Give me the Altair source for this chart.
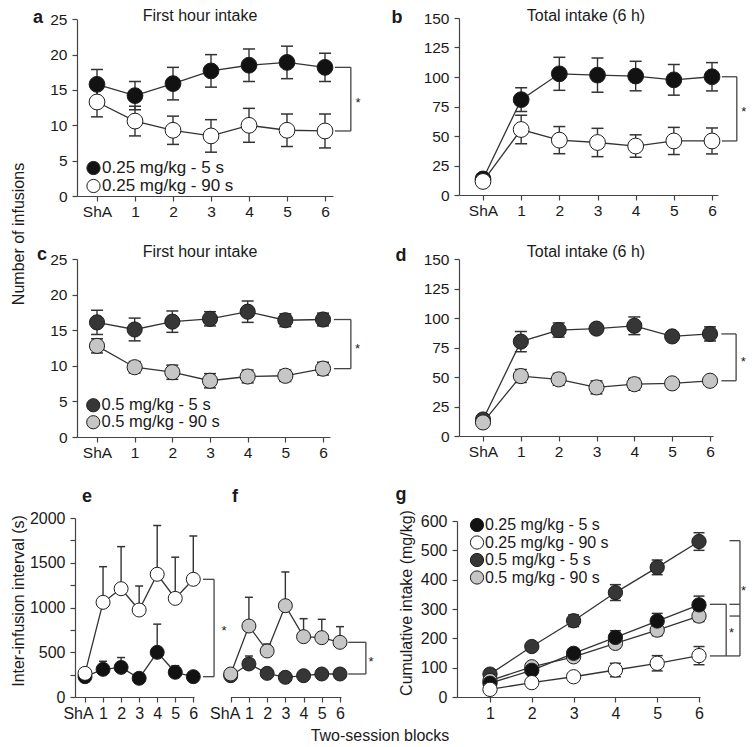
import altair as alt
import pandas as pd

FONT = "Liberation Sans"
W, H = 738, 735
M = 8  # page margin: plot px = page px - 8
LINE = "#333333"
STROKE = "#1e1e1e"
TEXT = "#1a1a1a"

BLOCKS = [0, 1, 2, 3, 4, 5, 6]
G_BLOCKS = [1, 2, 3, 4, 5, 6]

S1 = "0.25 mg/kg - 5 s"
S2 = "0.25 mg/kg - 90 s"
S3 = "0.5 mg/kg - 5 s"
S4 = "0.5 mg/kg - 90 s"
FILLS = {S1: "#121212", S2: "#ffffff", S3: "#363636", S4: "#c6c6c6"}

# (a) First hour intake, 0.25 mg/kg
A_5 = [15.8, 14.2, 15.9, 17.7, 18.5, 18.9, 18.2]
A_5_SEM = [2.1, 2.0, 2.3, 2.3, 2.3, 2.3, 2.0]
A_90 = [13.3, 10.6, 9.3, 8.5, 10.0, 9.3, 9.2]
A_90_SEM = [2.1, 2.1, 2.0, 2.3, 2.4, 2.3, 2.4]

# (b) Total intake (6 h), 0.25 mg/kg
B_5 = [13.6, 80.8, 102.7, 101.6, 100.8, 97.6, 100.2]
B_5_SEM = [2.0, 10.0, 14.0, 14.5, 12.5, 13.0, 12.0]
B_90 = [11.5, 55.5, 46.5, 44.5, 41.5, 45.8, 45.8]
B_90_SEM = [1.5, 12.0, 11.5, 12.0, 9.5, 11.5, 11.0]

# (c) First hour intake, 0.5 mg/kg
C_5 = [16.1, 15.1, 16.2, 16.6, 17.6, 16.4, 16.5]
C_5_SEM = [1.7, 1.6, 1.5, 1.0, 1.5, 0.9, 0.9]
C_90 = [12.8, 9.8, 9.1, 7.9, 8.5, 8.6, 9.6]
C_90_SEM = [1.0, 0.8, 1.0, 1.0, 0.9, 0.8, 0.9]

# (d) Total intake (6 h), 0.5 mg/kg
D_5 = [14.0, 80.0, 89.8, 91.0, 93.4, 84.4, 86.5]
D_5_SEM = [2.0, 8.5, 6.0, 2.5, 7.5, 2.0, 6.0]
D_90 = [11.5, 50.8, 48.0, 41.2, 43.9, 44.6, 46.8]
D_90_SEM = [1.5, 5.5, 5.0, 5.5, 5.0, 1.5, 1.5]

# (e) Inter-infusion interval, 0.25 mg/kg (upper SEM only)
E_5 = [227, 309, 331, 209, 499, 276, 227]
E_5_SEM = [0, 90, 110, 0, 315, 74, 0]
E_90 = [264, 1058, 1210, 972, 1371, 1102, 1315]
E_90_SEM = [0, 398, 470, 268, 545, 460, 484]

# (f) Inter-infusion interval, 0.5 mg/kg (upper SEM only)
F_5 = [238, 369, 264, 220, 238, 257, 257]
F_5_SEM = [0, 89, 0, 0, 0, 0, 0]
F_90 = [257, 793, 514, 1020, 674, 663, 611]
F_90_SEM = [0, 321, 78, 377, 201, 205, 175]

# (g) Cumulative intake
G_S1 = [47, 91, 149, 203, 259, 314]
G_S1_SEM = [8, 12, 13, 23, 26, 30]
G_S2 = [26, 49, 69, 92, 115, 141]
G_S2_SEM = [5, 8, 8, 23, 26, 31]
G_S3 = [78, 172, 260, 356, 442, 530]
G_S3_SEM = [8, 8, 20, 27, 25, 30]
G_S4 = [56, 103, 137, 183, 228, 276]
G_S4_SEM = [5, 8, 10, 17, 19, 19]

X_TICKS = BLOCKS
Y_TICKS_25 = [0, 5, 10, 15, 20, 25]
Y_TICKS_150 = [0, 25, 50, 75, 100, 125, 150]
Y_TICKS_2000 = [0, 250, 500, 750, 1000, 1250, 1500, 1750, 2000]
Y_TICKS_600 = [0, 100, 200, 300, 400, 500, 600]


def frame(x, groups, upper_only=False):
    rows = []
    for s, vals, sems in groups:
        for b, v, e in zip(x, vals, sems):
            rows.append({"block": b, "value": v, "err": e,
                         "lo": v if upper_only else v - e, "hi": v + e, "series": s})
    return pd.DataFrame(rows)


def xscale(px_left, px_right, px_a, px_b, va, vb):
    k = (px_b - px_a) / (vb - va)
    return alt.Scale(domain=[va + (px_left - px_a) / k, vb + (px_right - px_b) / k],
                     range=[px_left - M, px_right - M], nice=False, zero=False)


def yscale(px_bottom, px_top, vmax):
    return alt.Scale(domain=[0, vmax], range=[px_bottom - M, px_top - M], nice=False, zero=False)


def x_axis(y_px, values, sha_shift=0, fs=15.5):
    kw = {}
    if sha_shift:
        kw["labelOffset"] = {"condition": {"test": "datum.value == 0", "value": sha_shift},
                             "value": 0}
    return alt.Axis(orient="bottom", offset=(y_px - M) - H, values=values, format="d",
                    labelExpr="datum.value == 0 ? 'ShA' : datum.label", title=None, grid=False,
                    labelFlush=False, labelOverlap=False, labelPadding=3, labelFontSize=fs, **kw)


def y_axis(x_px, values, every=None, fs=15.5):
    kw = {}
    if every:
        kw["labelExpr"] = f"datum.value % {every} == 0 ? datum.label : ''"
    return alt.Axis(orient="left", offset=-(x_px - M), values=values, format="d", title=None,
                    grid=False, labelFlush=False, labelOverlap=False, labelPadding=5,
                    labelFontSize=fs, **kw)


def bracket_frame(segs):
    return pd.DataFrame([{"x": a, "x2": b, "y": c, "y2": d} for a, b, c, d in segs])


def simple_bracket(xs, xv, ytop, ybot):
    return [(xs, xv, ytop, ytop), (xv, xv, ytop, ybot), (xs, xv, ybot, ybot)]


def panel(df, xs, ys, xaxis, yaxis, domain, size, cap, legend=None, upper_only=False,
          segs=None, stars=None):
    # every layer of a panel carries the same axis definition so the shared axis merges cleanly
    def X(f):
        return alt.X(f"{f}:Q", scale=xs, axis=xaxis)

    def Y(f):
        return alt.Y(f"{f}:Q", scale=ys, axis=yaxis)

    layers = []
    layers.append(alt.Chart(df).mark_line(color=LINE, strokeWidth=1.3).encode(
        x=X("block"), y=Y("value"), detail="series:N", order="block:Q"))
    err = df[df["err"] > 0]
    layers.append(alt.Chart(err).mark_rule(color=LINE, strokeWidth=1.4).encode(
        x=X("block"), y=Y("lo"), y2=alt.Y2("hi")))
    layers.append(alt.Chart(err).mark_tick(orient="horizontal", size=cap, thickness=1.5,
                                           color=LINE, opacity=1).encode(x=X("block"), y=Y("hi")))
    if not upper_only:
        layers.append(alt.Chart(err).mark_tick(orient="horizontal", size=cap, thickness=1.5,
                                               color=LINE, opacity=1).encode(x=X("block"), y=Y("lo")))
    layers.append(alt.Chart(df).mark_point(shape="circle", filled=True, size=size, stroke=STROKE,
                                           strokeWidth=1, opacity=1).encode(
        x=X("block"), y=Y("value"),
        fill=alt.Fill("series:N", scale=alt.Scale(domain=domain, range=[FILLS[s] for s in domain]),
                      legend=legend)))
    if segs:
        layers.append(alt.Chart(bracket_frame(segs)).mark_rule(color="#444444", strokeWidth=1.3).encode(
            x=X("x"), x2=alt.X2("x2"), y=Y("y"), y2=alt.Y2("y2")))
    if stars:
        layers.append(alt.Chart(pd.DataFrame([{"x": a, "y": b} for a, b in stars])).mark_text(
            text="*", fontSize=13, color=TEXT, font=FONT, dy=4).encode(x=X("x"), y=Y("y")))
    return alt.layer(*layers)


def leg(x_px, y_px, fs, rowpad):
    return alt.Legend(orient="none", legendX=x_px - M, legendY=y_px - M, title=None,
                      labelFontSize=fs, labelFont=FONT, labelColor=TEXT, symbolType="circle",
                      symbolSize=175, symbolStrokeColor=STROKE, symbolStrokeWidth=1,
                      symbolOpacity=1, labelOffset=0, rowPadding=rowpad, padding=0,
                      labelLimit=300, direction="vertical")


# ---- panels ----
pa = panel(frame(BLOCKS, [(S1, A_5, A_5_SEM), (S2, A_90, A_90_SEM)]),
           xscale(77, 333, 97, 325, 0, 6), yscale(196, 19.3, 25),
           x_axis(196, X_TICKS), y_axis(77, Y_TICKS_25), [S1, S2], 250, 12,
           legend=leg(85, 159.5, 17, -2.3),
           segs=simple_bracket(6.26, 6.68, 18.2, 9.2), stars=[(6.87, 13.7)])

pb = panel(frame(BLOCKS, [(S1, B_5, B_5_SEM), (S2, B_90, B_90_SEM)]),
           xscale(459, 718, 483, 712, 0, 6), yscale(195, 18, 150),
           x_axis(195, X_TICKS), y_axis(459, Y_TICKS_150), [S1, S2], 250, 12,
           segs=simple_bracket(6.26, 6.65, 100.2, 45.8), stars=[(6.83, 73.7)])

pc = panel(frame(BLOCKS, [(S3, C_5, C_5_SEM), (S4, C_90, C_90_SEM)]),
           xscale(77, 330, 97, 323, 0, 6), yscale(437, 259, 25),
           x_axis(437, X_TICKS), y_axis(77, Y_TICKS_25), [S3, S4], 230, 12,
           legend=leg(85, 397, 16.5, -1.3),
           segs=simple_bracket(6.29, 6.74, 16.5, 9.6), stars=[(6.92, 12.9)])

pd_ = panel(frame(BLOCKS, [(S3, D_5, D_5_SEM), (S4, D_90, D_90_SEM)]),
            xscale(459, 713, 483, 710, 0, 6), yscale(436, 259, 150),
            x_axis(436, X_TICKS), y_axis(459, Y_TICKS_150), [S3, S4], 230, 12,
            segs=simple_bracket(6.3, 6.69, 86.5, 46.8), stars=[(6.88, 66)])

pe = panel(frame(BLOCKS, [(S1, E_5, E_5_SEM), (S2, E_90, E_90_SEM)], upper_only=True),
           xscale(75, 194, 85, 193.3, 0, 6), yscale(697, 518, 2000),
           x_axis(697, X_TICKS, sha_shift=-7, fs=16), y_axis(75, Y_TICKS_2000, every=500, fs=16),
           [S1, S2], 196, 8, upper_only=True,
           segs=simple_bracket(6.54, 7.15, 1315, 227), stars=[(7.7, 782)])

pf = panel(frame(BLOCKS, [(S3, F_5, F_5_SEM), (S4, F_90, F_90_SEM)], upper_only=True),
           xscale(230.5, 341, 230.7, 340, 0, 6), yscale(697, 518, 2000),
           x_axis(697, X_TICKS, sha_shift=-6, fs=16), None, [S3, S4], 196, 8,
           upper_only=True,
           segs=simple_bracket(6.45, 7.42, 611, 257), stars=[(7.71, 436)])

g_df = frame(G_BLOCKS, [(S3, G_S3, G_S3_SEM), (S4, G_S4, G_S4_SEM),
                        (S1, G_S1, G_S1_SEM), (S2, G_S2, G_S2_SEM)])
g_segs = [
    (6.26, 6.65, 316, 316), (6.65, 6.65, 316, 140), (6.26, 6.98, 140, 140),
    (6.73, 6.98, 533, 533), (6.73, 6.98, 316, 316), (6.73, 6.98, 276, 276),
    (6.98, 6.98, 533, 140),
]
pg = panel(g_df, xscale(457, 700, 490, 699, 1, 6), yscale(697, 521, 600),
           x_axis(697, G_BLOCKS, fs=16), y_axis(457, Y_TICKS_600, fs=16), [S1, S2, S3, S4], 205, 11,
           legend=leg(469, 517, 16, -0.5), segs=g_segs, stars=[(6.78, 231), (7.065, 376)])


def label(text, x, y, size=16, weight="normal", angle=0, align="center", baseline="alphabetic"):
    return alt.Chart(pd.DataFrame({"t": [text]})).mark_text(
        fontSize=size, fontWeight=weight, angle=angle, align=align, baseline=baseline,
        color=TEXT, font=FONT).encode(x=alt.value(x - M), y=alt.value(y - M), text="t:N")


texts = [
    label("a", 38, 23, 18, "bold"), label("b", 397, 23, 18, "bold"),
    label("c", 42, 260, 18, "bold"), label("d", 401, 261, 18, "bold"),
    label("e", 87, 502, 18, "bold"), label("f", 235, 502, 18, "bold"),
    label("g", 401, 500, 18, "bold"),
    label("First hour intake", 200, 21), label("Total intake (6 h)", 586, 21),
    label("First hour intake", 200, 257), label("Total intake (6 h)", 586, 257),
    label("Number of infusions", 23.5, 234, angle=270),
    label("Inter-infusion interval (s)", 24, 601, angle=270),
    label("Cumulative intake (mg/kg)", 412, 603, angle=270),
    label("Two-session blocks", 380, 741),
]

chart = alt.layer(pa, pb, pc, pd_, pe, pf, pg, *texts).resolve_scale(
    x="independent", y="independent", fill="independent"
).properties(
    width=W, height=H, padding=0, autosize=alt.AutoSizeParams(type="none")
).configure(font=FONT).configure_view(stroke=None).configure_axis(
    labelFont=FONT, labelColor=TEXT, tickColor="#444444",
    domainColor="#444444", tickSize=5, tickWidth=1.2, domainWidth=1.2
)

chart.save("out.html", embed_options={"renderer": "svg", "actions": False})
